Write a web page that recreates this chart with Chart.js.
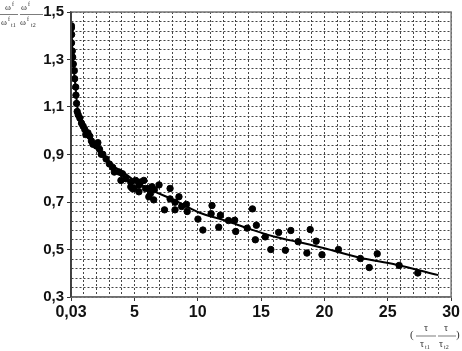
<!DOCTYPE html>
<html lang="en">
<head>
    <meta charset="UTF-8">
    <title>omega ratio</title>
    <style>
        body { margin: 0; background: #fff; }
        #wrap { width: 462px; height: 351px; }
    </style>
</head>
<body>
<div id="wrap"><canvas id="myChart" width="462" height="351"></canvas></div>
<script src="https://cdn.jsdelivr.net/npm/chart.js"></script>
<script>
// measured points (x, y)
const ptsX = [0.03,0.03,0.05,0.04,0.1,0.13,0.18,0.26,0.29,0.37,0.39,0.44,0.49,0.57,0.7,0.83,0.96,1.09,1.17,1.34,
  1.48,1.61,1.73,2.0,2.12,2.25,2.39,2.51,2.77,3.03,3.29,3.42,3.81,3.94,4.06,4.33,4.72,4.72,4.84,4.97,
  5.1,5.36,5.49,5.75,5.36,5.88,6.14,6.27,6.14,6.39,6.53,6.58,6.95,7.38,7.82,7.82,8.21,8.21,8.52,8.73,
  9.11,9.17,10.02,10.41,11.13,11.06,11.79,11.66,12.43,12.92,13.0,13.91,14.32,14.63,14.55,15.33,15.77,16.39,16.92,17.35,
  17.93,18.62,18.88,19.35,19.81,21.11,22.84,23.54,24.17,25.9,27.37];
const ptsY = [1.442,1.433,1.405,1.37,1.336,1.31,1.281,1.253,1.219,1.184,1.15,1.115,1.081,1.067,1.053,1.032,1.019,1.005,0.984,0.991,
  0.977,0.957,0.943,0.936,0.95,0.922,0.901,0.901,0.881,0.86,0.846,0.826,0.826,0.791,0.819,0.798,0.784,0.764,0.757,0.757,
  0.791,0.771,0.784,0.791,0.743,0.757,0.757,0.736,0.722,0.764,0.709,0.752,0.772,0.667,0.757,0.713,0.699,0.667,0.722,0.681,
  0.69,0.66,0.628,0.582,0.685,0.651,0.644,0.594,0.622,0.623,0.576,0.59,0.671,0.602,0.541,0.553,0.5,0.572,0.497,0.58,
  0.533,0.485,0.584,0.535,0.478,0.5,0.462,0.424,0.482,0.433,0.401];

// fitted curve
const fitX = [0.03,0.1,0.2,0.35,0.5,0.8,1.2,2,3,4,5,6,8,10,12.35,13.9,16,18.3,20,22.8,25.6,29];
const fitY = [1.45,1.34,1.27,1.19,1.1,1.04,0.99,0.935,0.862,0.83,0.79,0.758,0.712,0.658,0.619,0.59,0.555,0.527,0.505,0.465,0.437,0.392];

const xTickLabels = ['0,03','5','10','15','20','25','30'];
const yTickLabels = ['0,3','0,5','0,7','0,9','1,1','1,3','1,5'];

const scatter = ptsX.map((x,i)=>({x:x, y:ptsY[i]}));
const fit = fitX.map((x,i)=>({x:x, y:fitY[i]}));

function yLabel(v){
  let k = Math.round(v*100);
  if ((k-30) % 20 === 0) return yTickLabels[(k-30)/20];
  return '';
}
function xLabel(v){
  let k = Math.round(v);
  if (k % 5 === 0) return xTickLabels[k/5];
  return '';
}

// frame + the two formula titles
const extras = {
  id: 'extras',
  afterDraw(chart){
    const c = chart.ctx, a = chart.chartArea;
    c.save();
    c.strokeStyle = '#777';
    c.lineWidth = 1.5;
    c.strokeRect(a.left, a.top, a.right-a.left, a.bottom-a.top);
    c.strokeStyle = '#333';
    c.beginPath(); c.moveTo(a.left, a.top); c.lineTo(a.left, a.bottom); c.stroke();

    c.fillStyle = '#333';
    c.strokeStyle = '#444';
    c.lineWidth = 0.7;
    c.textAlign = 'left';
    c.textBaseline = 'alphabetic';
    const big = '9px "Liberation Serif"', small = '6px "Liberation Serif"';
    function t(s, x, y, f){ c.font = f; c.fillText(s, x, y); }
    // first fraction
    t('ω', 5, 10, big); t('f', 12, 6, small);
    c.beginPath(); c.moveTo(0, 14.5); c.lineTo(18, 14.5); c.stroke();
    t('ω', 1, 25, big); t('f', 8, 21, small); t('t1', 11, 27, small);
    // second fraction
    t('ω', 21, 10, big); t('f', 28, 6, small);
    c.beginPath(); c.moveTo(20, 14.5); c.lineTo(43, 14.5); c.stroke();
    t('ω', 20, 25, big); t('f', 27, 21, small); t('t2', 31, 27, small);

    // x title
    t('(', 410, 338, '11px "Liberation Serif"');
    t('τ', 424, 331, '10px "Liberation Serif"');
    t('τ', 444, 331, '10px "Liberation Serif"');
    c.beginPath(); c.moveTo(416, 336); c.lineTo(436, 336); c.moveTo(438, 336); c.lineTo(456, 336); c.stroke();
    t('τ', 420, 347, '10px "Liberation Serif"'); t('t1', 425, 349, small);
    t('τ', 439, 347, '10px "Liberation Serif"'); t('t2', 444, 349, small);
    t(')', 456, 338, '11px "Liberation Serif"');
    c.restore();
  }
};

new Chart(document.getElementById('myChart'), {
  type: 'scatter',
  data: {
    datasets: [
      {
        type: 'line',
        data: fit,
        borderColor: '#000',
        borderWidth: 2,
        pointRadius: 0,
        fill: false,
        cubicInterpolationMode: 'monotone'
      },
      {
        data: scatter,
        backgroundColor: '#000',
        borderColor: '#000',
        pointRadius: 3.2,
        pointHoverRadius: 3.2
      }
    ]
  },
  options: {
    responsive: false,
    animation: false,
    events: [],
    layout: { padding: { left: 0, right: 5, top: 7, bottom: 0 } },
    plugins: { legend: { display: false }, tooltip: { enabled: false } },
    scales: {
      x: {
        type: 'linear',
        min: 0, max: 30,
        afterFit(s){ s.height = 54; },
        ticks: {
          stepSize: 1, autoSkip: false, maxRotation: 0, padding: 2,
          color: '#111',
          font: { family: 'Arial, "Liberation Sans"', size: 16, weight: 'bold' },
          callback: (v) => xLabel(v)
        },
        grid: {
          color: '#444',
          lineWidth: 1,
          tickLength: 4,
          tickBorderDash: [],
          tickColor: (ctx) => (ctx.tick && Math.round(ctx.tick.value) % 5 === 0) ? '#333' : 'rgba(0,0,0,0)'
        },
        border: { display: true, color: '#555', width: 1.5, dash: [2, 2] }
      },
      y: {
        min: 0.3, max: 1.5,
        afterFit(s){ s.width = 71; },
        ticks: {
          stepSize: 0.04, autoSkip: false, maxTicksLimit: 100, padding: 3,
          color: '#111',
          font: { family: 'Arial, "Liberation Sans"', size: 15, weight: 'bold' },
          callback: (v) => yLabel(v)
        },
        grid: {
          color: '#444',
          lineWidth: 1,
          tickLength: 4,
          tickBorderDash: [],
          tickColor: (ctx) => (ctx.tick && yLabel(ctx.tick.value) !== '') ? '#333' : 'rgba(0,0,0,0)'
        },
        border: { display: true, color: '#333', width: 1.5, dash: [2, 2] }
      }
    }
  },
  plugins: [extras]
});
</script>
</body>
</html>
